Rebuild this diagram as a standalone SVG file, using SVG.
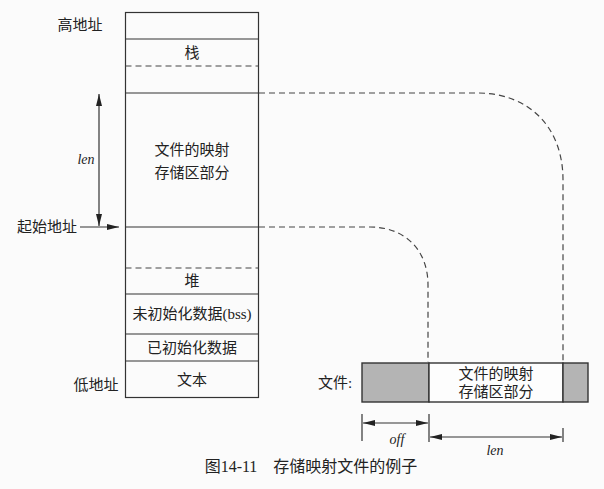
<svg xmlns="http://www.w3.org/2000/svg" width="604" height="489" viewBox="0 0 604 489">
<defs>
<style>
.t{font-family:"Liberation Serif","Noto Sans CJK SC",serif;font-size:15px;fill:#222;text-anchor:middle}
.i{font-family:"Liberation Serif",serif;font-style:italic;font-size:14px;fill:#222;text-anchor:middle}
.ln{stroke:#333;stroke-width:1.2;fill:none}
.ds{stroke:#444;stroke-width:1.2;fill:none;stroke-dasharray:6 4}
.g{fill:#b4b4b4;stroke:#333;stroke-width:1.4}
</style>
<marker id="ah" viewBox="0 0 12 8" refX="12" refY="4" markerWidth="12" markerHeight="8" markerUnits="userSpaceOnUse" orient="auto-start-reverse">
<path d="M0,1 L12,4 L0,7 z" fill="#222"/>
</marker>
</defs>
<rect width="604" height="489" fill="#fbfbfb"/>
<g id="memory">
<rect x="125.5" y="12.5" width="133" height="385" class="ln"/>
<line x1="125.5" y1="39" x2="258.5" y2="39" class="ln"/>
<line x1="125.5" y1="66" x2="258.5" y2="66" class="ds"/>
<line x1="125.5" y1="93" x2="258.5" y2="93" class="ln"/>
<line x1="125.5" y1="227" x2="258.5" y2="227" class="ln"/>
<line x1="125.5" y1="268" x2="258.5" y2="268" class="ds"/>
<line x1="125.5" y1="294" x2="258.5" y2="294" class="ln"/>
<line x1="125.5" y1="334" x2="258.5" y2="334" class="ln"/>
<line x1="125.5" y1="361" x2="258.5" y2="361" class="ln"/>
<text x="192" y="58" class="t">栈</text>
<text x="192" y="155" class="t">文件的映射</text>
<text x="192" y="178" class="t">存储区部分</text>
<text x="192" y="286" class="t">堆</text>
<text x="192" y="319" class="t">未初始化数据(bss)</text>
<text x="192" y="353" class="t">已初始化数据</text>
<text x="192" y="385" class="t">文本</text>
</g>
<g id="labels">
<text x="80" y="30" class="t">高地址</text>
<text x="47" y="232" class="t">起始地址</text>
<text x="96" y="390" class="t">低地址</text>
<text x="86" y="164" class="i">len</text>
</g>
<g id="file">
<rect x="362" y="363" width="67" height="39" class="g"/>
<rect x="429" y="363" width="134" height="39" fill="#fdfdfd" stroke="#333" stroke-width="1.4"/>
<rect x="563" y="363" width="25" height="39" class="g"/>
<text x="496" y="379" class="t">文件的映射</text>
<text x="496" y="397" class="t">存储区部分</text>
<text x="335" y="388" class="t">文件:</text>
</g>
<g id="connectors">
<line x1="99" y1="94" x2="99" y2="226" class="ln" marker-start="url(#ah)" marker-end="url(#ah)"/>
<line x1="80" y1="227" x2="119" y2="227" class="ln" marker-end="url(#ah)"/>
<path d="M259,93 L477,93 C530,93 563,128 563,180 L563,362" class="ds"/>
<path d="M259,227 L370,227 C405,227 428,250 428,285 L428,362" class="ds"/>
<line x1="362" y1="414" x2="362" y2="441" class="ln"/>
<line x1="429" y1="414" x2="429" y2="442" class="ln"/>
<line x1="563" y1="428" x2="563" y2="442" class="ln"/>
<line x1="363" y1="423" x2="428" y2="423" class="ln" marker-start="url(#ah)" marker-end="url(#ah)"/>
<line x1="430" y1="437" x2="562" y2="437" class="ln" marker-start="url(#ah)" marker-end="url(#ah)"/>
<text x="397" y="444" class="i">off</text>
<text x="495" y="455" class="i">len</text>
</g>
<text x="311" y="472" class="t" style="font-size:16px">图14-11　存储映射文件的例子</text>
</svg>
